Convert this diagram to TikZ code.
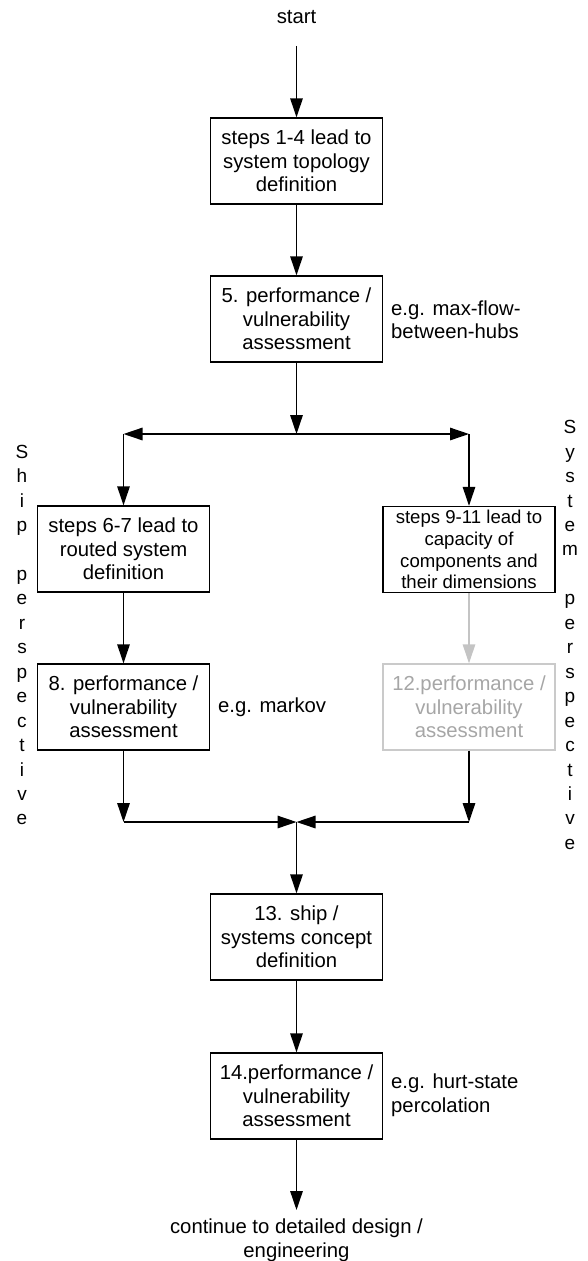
\documentclass[tikz,border=0pt]{standalone}
\usepackage{fontspec}
\setmainfont{Liberation Sans}
\usetikzlibrary{arrows.meta}
\definecolor{paleline}{HTML}{C4C4C4}
\definecolor{palebox}{HTML}{CACACA}
\definecolor{paletext}{HTML}{A6A6A6}
\tikzset{
  stepbox/.style={draw=black, line width=1.4pt, minimum width=172pt, minimum height=86pt,
    inner sep=0pt, align=center, font=\fontsize{20.3}{23.7}\selectfont},
  smallbox/.style={stepbox, font=\fontsize{18.6}{21.7}\selectfont},
  note/.style={inner sep=0pt, align=left, anchor=west, font=\fontsize{20.3}{23.5}\selectfont},
  plain/.style={inner sep=0pt, align=center, font=\fontsize{20.3}{23.5}\selectfont},
  vertical/.style={inner sep=0pt, align=center, font=\fontsize{19}{24.45}\selectfont},
  arr/.style={line width=1.4pt, -{Triangle[length=19pt,width=12.5pt]}},
}
\begin{document}
\begin{tikzpicture}[x=1pt,y=-1pt]
\useasboundingbox (0,0) rectangle (587,1261);

% terminal texts
\node[plain] (start) at (296.5,17) {start};
\node[plain, anchor=north] (finish) at (296.5,1219) {continue to detailed design /\\engineering};

% main column
\node[stepbox] (b1) at (296.5,161) {steps 1-4 lead to\\system topology\\definition};
\node[stepbox] (b5) at (296.5,319) {5. performance /\\vulnerability\\assessment};
\node[stepbox] (b13) at (296.5,937) {13. ship /\\systems concept\\definition};
\node[stepbox] (b14) at (296.5,1096) {14.performance /\\vulnerability\\assessment};

% ship branch
\node[stepbox] (b6) at (123.5,549) {steps 6-7 lead to\\routed system\\definition};
\node[stepbox] (b8) at (123.5,707) {8. performance /\\vulnerability\\assessment};

% system branch
\node[smallbox] (b9) at (469,549.5) {steps 9-11 lead to\\capacity of\\components and\\their dimensions};
\node[stepbox, draw=palebox, text=paletext] (b12) at (469,707) {12.performance /\\vulnerability\\assessment};

% side notes
\node[note] (n5) at (391,319.5) {e.g. max-flow-\\between-hubs};
\node[note] (n8) at (218,707) {e.g. markov};
\node[note] (n14) at (391,1095) {e.g. hurt-state\\percolation};

% perspective captions
\node[vertical] (ship) at (22,635) {S\\h\\i\\p\\\mbox{}\\p\\e\\r\\s\\p\\e\\c\\t\\i\\v\\e};
\node[vertical] (sys) at (570,635) {S\\y\\s\\t\\e\\m\\\mbox{}\\p\\e\\r\\s\\p\\e\\c\\t\\i\\v\\e};

% junction points
\coordinate (jt) at (296.5,434);
\coordinate (cl) at (123.5,434);
\coordinate (cr) at (469,434);
\coordinate (jb) at (296.5,822);
\coordinate (dl) at (123.5,822);
\coordinate (dr) at (469,822);

% connectors
\draw[arr, shorten <=22pt] (start) -- (b1);
\draw[arr] (b1) -- (b5);
\draw[arr] (b5) -- (jt);
\draw[arr] (jt) -- (cl);
\draw[arr] (jt) -- (cr);
\draw[arr] (cl) -- (b6);
\draw[arr] (cr) -- (b9);
\draw[arr] (b6) -- (b8);
\draw[arr, draw=paleline, fill=paleline] (b9) -- (b12);
\draw[arr] (b8) -- (dl);
\draw[arr] (b12) -- (dr);
\draw[arr] (dl) -- (jb);
\draw[arr] (dr) -- (jb);
\draw[arr] (jb) -- (b13);
\draw[arr] (b13) -- (b14);
\draw[arr, shorten >=9pt] (b14) -- (finish);
\end{tikzpicture}
\end{document}
